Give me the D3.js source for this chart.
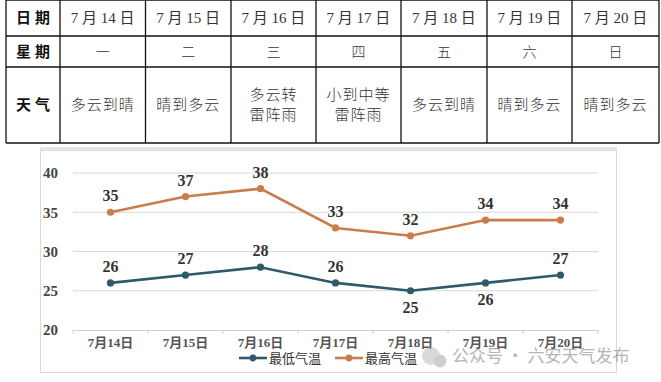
<!DOCTYPE html>
<html>
<head>
<meta charset="utf-8">
<script src="https://cdn.jsdelivr.net/npm/d3@7"></script>
<style>
  body { margin: 0; background: #fff; }
  svg { display: block; }
</style>
</head>
<body>
<div id="chart"></div>
<script>
const dates = ["7月14日", "7月15日", "7月16日", "7月17日", "7月18日", "7月19日", "7月20日"];
const weekdays = ["一", "二", "三", "四", "五", "六", "日"];
const weather = [["多云到晴"], ["晴到多云"], ["多云转", "雷阵雨"], ["小到中等", "雷阵雨"], ["多云到晴"], ["晴到多云"], ["晴到多云"]];
const lowTemp = [26, 27, 28, 26, 25, 26, 27];
const highTemp = [35, 37, 38, 33, 32, 34, 34];
const yTicks = [20, 25, 30, 35, 40];
const seriesNames = ["最低气温", "最高气温"];
const lowBelow = [false, false, false, false, true, true, false]; // label placement under the point

const W = 661, H = 382;
const svg = d3.select("#chart").append("svg").attr("width", W).attr("height", H);

// ---- table ----
const colX = [6, 60, 145.5, 231, 316, 401, 487, 572, 659];
const rowY = [0, 36, 67, 143];
const tbl = svg.append("g").attr("class", "table");
const cjk = "'Noto Sans CJK SC', sans-serif";

rowY.forEach(y => tbl.append("line").attr("x1", colX[0]).attr("x2", colX[colX.length - 1])
  .attr("y1", y).attr("y2", y).attr("stroke", "#111").attr("stroke-width", 1.3));
colX.forEach(x => tbl.append("line").attr("x1", x).attr("x2", x)
  .attr("y1", rowY[0]).attr("y2", rowY[3]).attr("stroke", "#111").attr("stroke-width", 1.3));

const heads = ["日期", "星期", "天气"];
heads.forEach((h, i) => {
  tbl.append("text")
    .attr("x", (colX[0] + colX[1]) / 2 + 2)
    .attr("y", (rowY[i] + rowY[i + 1]) / 2)
    .attr("dy", "0.36em")
    .attr("text-anchor", "middle")
    .attr("font-family", cjk).attr("font-weight", 700).attr("font-size", 15)
    .attr("letter-spacing", 4)
    .attr("fill", "#111")
    .text(h);
});

dates.forEach((d, i) => {
  const cx = (colX[i + 1] + colX[i + 2]) / 2;
  tbl.append("text")
    .attr("x", cx).attr("y", (rowY[0] + rowY[1]) / 2).attr("dy", "0.36em")
    .attr("text-anchor", "middle")
    .attr("font-family", "'Liberation Serif', " + cjk).attr("font-size", 15)
    .attr("fill", "#333")
    .text(d.replace("月", " 月 ").replace("日", " 日"));
  tbl.append("text")
    .attr("x", cx).attr("y", (rowY[1] + rowY[2]) / 2).attr("dy", "0.36em")
    .attr("text-anchor", "middle")
    .attr("font-family", cjk).attr("font-size", 14).attr("font-weight", 300)
    .attr("fill", "#333")
    .text(weekdays[i]);
  const lines = weather[i];
  const mid = (rowY[2] + rowY[3]) / 2;
  lines.forEach((t, j) => {
    tbl.append("text")
      .attr("x", cx)
      .attr("y", mid + (j - (lines.length - 1) / 2) * 20)
      .attr("dy", "0.36em")
      .attr("text-anchor", "middle")
      .attr("font-family", cjk).attr("font-size", 15).attr("font-weight", 300)
      .attr("letter-spacing", 1)
      .attr("fill", "#333")
      .text(t);
  });
});

// ---- chart panel ----
svg.append("line").attr("x1", 40).attr("x2", 617).attr("y1", 148.5).attr("y2", 148.5)
  .attr("stroke", "#ddd").attr("stroke-width", 2);
svg.append("rect").attr("x", 40.5).attr("y", 150.5).attr("width", 576).attr("height", 222)
  .attr("fill", "#fff").attr("stroke", "#d9d9d9");

const x = d3.scaleBand().domain(dates).range([73, 598]);
const y = d3.scaleLinear().domain([20, 40]).range([330, 173]);

const g = svg.append("g");

g.append("g")
  .selectAll("line")
  .data(yTicks.slice(1))
  .join("line")
  .attr("x1", 73).attr("x2", 598)
  .attr("y1", d => y(d)).attr("y2", d => y(d))
  .attr("stroke", "#d9d9d9").attr("stroke-width", 1);

const yAxis = g.append("g")
  .attr("transform", "translate(62,0)")
  .call(d3.axisLeft(y).tickValues(yTicks).tickSize(0).tickPadding(0));
yAxis.select(".domain").remove();
yAxis.selectAll("text")
  .attr("x", -19).attr("text-anchor", "start")
  .attr("font-family", "'Liberation Serif', serif").attr("font-weight", 700)
  .attr("font-size", 15).attr("fill", "#444");

const xAxis = g.append("g")
  .attr("transform", `translate(0,${y(20)})`)
  .call(d3.axisBottom(x).tickSize(0).tickPadding(8));
xAxis.select(".domain").attr("stroke", "#d0d0d0");
xAxis.selectAll("text")
  .attr("font-family", "'Liberation Serif', " + cjk).attr("font-weight", 700)
  .attr("font-size", 13).attr("fill", "#555");
xAxis.selectAll(".sep")
  .data(d3.range(dates.length + 1))
  .join("line")
  .attr("class", "sep")
  .attr("x1", i => x.range()[0] + i * x.bandwidth()).attr("x2", i => x.range()[0] + i * x.bandwidth())
  .attr("y1", 0).attr("y2", 4)
  .attr("stroke", "#d0d0d0");

const cx = d => x(d) + x.bandwidth() / 2;
const series = [
  { name: seriesNames[0], values: lowTemp, color: "#2f5a6b" },
  { name: seriesNames[1], values: highTemp, color: "#c87d4c" }
];

const line = d3.line().x((v, i) => cx(dates[i])).y(v => y(v));

series.forEach((s, si) => {
  g.append("path")
    .datum(s.values)
    .attr("d", line)
    .attr("fill", "none")
    .attr("stroke", s.color)
    .attr("stroke-width", 2.6);
  g.selectAll(".pt" + si)
    .data(s.values)
    .join("circle")
    .attr("cx", (v, i) => cx(dates[i]))
    .attr("cy", v => y(v))
    .attr("r", 3.6)
    .attr("fill", s.color);
  g.selectAll(".lb" + si)
    .data(s.values)
    .join("text")
    .attr("x", (v, i) => cx(dates[i]))
    .attr("y", (v, i) => (si === 0 && lowBelow[i]) ? y(v) + 22 : y(v) - 11)
    .attr("text-anchor", "middle")
    .attr("font-family", "'Liberation Serif', serif").attr("font-weight", 700)
    .attr("font-size", 16).attr("fill", "#333")
    .text(v => v);
});

// legend
const leg = g.append("g").attr("transform", "translate(239,358)");
let lx = 0;
series.forEach((s, i) => {
  const item = leg.append("g").attr("transform", `translate(${lx},0)`);
  item.append("line").attr("x1", 0).attr("x2", 28).attr("y1", 0).attr("y2", 0)
    .attr("stroke", s.color).attr("stroke-width", 2.6);
  item.append("circle").attr("cx", 14).attr("cy", 0).attr("r", 3.4).attr("fill", s.color);
  item.append("text").attr("x", 30).attr("dy", "0.36em")
    .attr("font-family", "'Noto Sans CJK SC', serif").attr("font-size", 13)
    .attr("fill", "#333").text(s.name);
  lx += 96;
});

// watermark
const wm = svg.append("g").attr("opacity", 0.55);
wm.append("circle").attr("cx", 431).attr("cy", 356).attr("r", 9).attr("fill", "#bbb");
wm.append("circle").attr("cx", 440).attr("cy", 361).attr("r", 6.5).attr("fill", "#a9a9a9");
wm.append("text").attr("x", 452).attr("y", 356).attr("dy", "0.36em")
  .attr("font-family", cjk).attr("font-size", 17).attr("fill", "#777")
  .text("公众号 · 六安天气发布");
</script>
</body>
</html>
